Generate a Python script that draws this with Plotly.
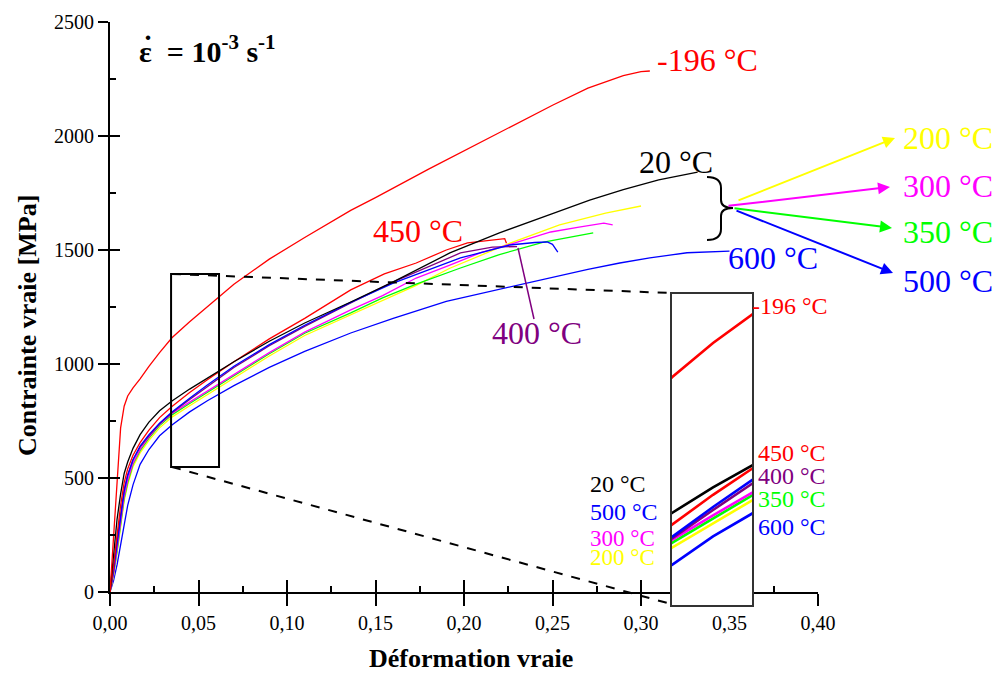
import plotly.graph_objects as go

# ---------------- data ----------------
x_early = [0, 0.002, 0.004, 0.006, 0.008, 0.01, 0.013, 0.017, 0.022, 0.028,
           0.035, 0.045, 0.055, 0.07, 0.09, 0.11, 0.136]

x_m196 = x_early + [0.15, 0.18, 0.20, 0.22, 0.25, 0.27, 0.29, 0.30, 0.305]
y_m196 = [0, 220, 480, 720, 815, 860, 895, 935, 990, 1050, 1115, 1185, 1252, 1350, 1460, 1555, 1674,
          1730, 1855, 1935, 2015, 2135, 2210, 2265, 2282, 2285]

x_20 = x_early + [0.16, 0.192, 0.22, 0.25, 0.271, 0.29, 0.31, 0.332]
y_20 = [0, 150, 320, 430, 520, 570, 630, 690, 745, 795, 838, 890, 937, 1010, 1100, 1180, 1272,
        1360, 1487, 1575, 1660, 1719, 1765, 1808, 1842]

x_450 = x_early + [0.155, 0.173, 0.19, 0.202, 0.211, 0.218, 0.223, 0.224]
y_450 = [0, 110, 250, 380, 480, 540, 600, 655, 710, 765, 814, 875, 931, 1010, 1110, 1200, 1325,
         1395, 1443, 1500, 1531, 1540, 1545, 1550, 1530]

x_500 = x_early + [0.16, 0.198, 0.226, 0.24, 0.247, 0.25, 0.253]
y_500 = [0, 90, 210, 330, 440, 510, 580, 640, 690, 740, 789, 850, 908, 990, 1085, 1170, 1270,
         1355, 1465, 1522, 1533, 1535, 1525, 1491]

x_400 = x_early + [0.16, 0.198, 0.216, 0.23]
y_400 = [0, 100, 230, 350, 450, 515, 580, 635, 685, 738, 786, 844, 900, 985, 1080, 1165, 1268,
         1360, 1487, 1513, 1515]

x_300 = x_early + [0.154, 0.173, 0.192, 0.21, 0.226, 0.249, 0.265, 0.279, 0.284]
y_300 = [0, 80, 190, 310, 420, 490, 565, 625, 680, 735, 783, 833, 882, 955, 1050, 1140, 1237,
         1300, 1377, 1434, 1490, 1525, 1579, 1600, 1618, 1610]

x_350 = x_early + [0.154, 0.173, 0.198, 0.22, 0.245, 0.26, 0.273]
y_350 = [0, 80, 180, 300, 410, 480, 560, 620, 675, 730, 777, 827, 876, 950, 1045, 1135, 1224,
         1290, 1350, 1421, 1480, 1535, 1558, 1575]

x_200 = x_early + [0.154, 0.173, 0.192, 0.21, 0.226, 0.254, 0.28, 0.30]
y_200 = [0, 70, 170, 290, 400, 470, 550, 610, 665, 720, 767, 817, 866, 940, 1035, 1125, 1215,
         1280, 1345, 1420, 1480, 1530, 1610, 1662, 1693]

x_600 = x_early + [0.16, 0.19, 0.23, 0.25, 0.27, 0.288, 0.305, 0.326, 0.34, 0.35]
y_600 = [0, 50, 120, 210, 300, 380, 470, 560, 625, 685, 732, 790, 839, 905, 985, 1055, 1136,
         1200, 1275, 1346, 1382, 1415, 1443, 1465, 1488, 1492, 1495]

x_tickvals = [0, 0.05, 0.10, 0.15, 0.20, 0.25, 0.30, 0.35, 0.40]
x_ticktext = ["0,00", "0,05", "0,10", "0,15", "0,20", "0,25", "0,30", "0,35", "0,40"]
x_minor = [0.025, 0.075, 0.125, 0.175, 0.225, 0.275, 0.325, 0.375]
y_tickvals = [0, 500, 1000, 1500, 2000, 2500]
y_ticktext = ["0", "500", "1000", "1500", "2000", "2500"]
y_minor = [250, 750, 1250, 1750, 2250]

RED, BLACK, BLUE, PURPLE = "#FF0000", "#000000", "#0000FF", "#800080"
MAGENTA, GREEN, YELLOW = "#FF00FF", "#00FF00", "#FFFF00"

curves = [
    ("600 °C", x_600, y_600, BLUE),
    ("200 °C", x_200, y_200, YELLOW),
    ("350 °C", x_350, y_350, GREEN),
    ("300 °C", x_300, y_300, MAGENTA),
    ("400 °C", x_400, y_400, PURPLE),
    ("500 °C", x_500, y_500, BLUE),
    ("450 °C", x_450, y_450, RED),
    ("20 °C", x_20, y_20, BLACK),
    ("-196 °C", x_m196, y_m196, RED),
]

# the page body has an 8 px margin, so the figure is sized to fit the window
OFF = 8
W, H = 992, 671
def px(v): return (v - OFF) / W
def py(v): return 1 - (v - OFF) / H

FONT = "Liberation Serif"

fig = go.Figure()
for name, xs, ys, col in curves:
    fig.add_trace(go.Scatter(x=xs, y=ys, mode="lines", name=name,
                             line=dict(color=col, width=1.3),
                             xaxis="x", yaxis="y", showlegend=False, hoverinfo="skip"))
for name, xs, ys, col in curves:
    fig.add_trace(go.Scatter(x=xs, y=ys, mode="lines", name=name,
                             line=dict(color=col, width=2.6),
                             xaxis="x2", yaxis="y2", showlegend=False, hoverinfo="skip"))

tickfont = dict(family=FONT, size=20, color="black")

fig.update_layout(
    width=W, height=H,
    margin=dict(l=0, r=0, t=0, b=0, pad=0, autoexpand=False),
    showlegend=False,
    paper_bgcolor="white", plot_bgcolor="white",
    xaxis=dict(domain=[px(110), px(818)], range=[0, 0.40], anchor="y",
               showline=True, linecolor="black", linewidth=2,
               ticks="outside", ticklen=12, tickwidth=2, tickcolor="black",
               tickvals=x_tickvals, ticktext=x_ticktext, tickfont=tickfont,
               showgrid=False, zeroline=False, automargin=False),
    yaxis=dict(domain=[py(592), py(22)], range=[0, 2500], anchor="x",
               showline=True, linecolor="black", linewidth=2,
               ticks="outside", ticklen=10, tickwidth=2, tickcolor="black",
               tickvals=y_tickvals, ticktext=y_ticktext, tickfont=tickfont,
               showgrid=False, zeroline=False, automargin=False),
    xaxis3=dict(overlaying="x", anchor="y", range=[0, 0.40],
                showline=False, showgrid=False, zeroline=False, showticklabels=False,
                ticks="inside", ticklen=12, tickwidth=2, tickcolor="black",
                tickvals=x_tickvals, automargin=False,
                minor=dict(tickvals=x_minor, ticks="inside", ticklen=6, tickwidth=2, tickcolor="black")),
    yaxis3=dict(overlaying="y", anchor="x", range=[0, 2500], side="left",
                showline=False, showgrid=False, zeroline=False, showticklabels=False,
                ticks="inside", ticklen=10, tickwidth=2, tickcolor="black",
                tickvals=y_tickvals, automargin=False,
                minor=dict(tickvals=y_minor, ticks="inside", ticklen=6, tickwidth=2, tickcolor="black")),
    xaxis2=dict(domain=[px(672), px(752)], range=[0.035, 0.0545], anchor="y2",
                showline=True, mirror=True, linecolor="#333333", linewidth=2,
                ticks="", showticklabels=False, showgrid=False, zeroline=False, automargin=False),
    yaxis2=dict(domain=[py(605), py(294)], range=[650, 1285], anchor="x2",
                showline=True, mirror=True, linecolor="#333333", linewidth=2,
                ticks="", showticklabels=False, showgrid=False, zeroline=False, automargin=False),
)

# empty traces so the overlay tick axes are drawn
fig.add_trace(go.Scatter(x=[None], y=[None], xaxis="x3", yaxis="y", showlegend=False, hoverinfo="skip"))
fig.add_trace(go.Scatter(x=[None], y=[None], xaxis="x", yaxis="y3", showlegend=False, hoverinfo="skip"))

shapes = []
# zoom box on main plot
shapes.append(dict(type="rect", xref="x", yref="y", x0=0.0345, x1=0.0616, y0=548, y1=1395,
                   line=dict(color="black", width=2)))
# dashed connectors
shapes.append(dict(type="line", xref="paper", yref="paper", x0=px(172), y0=py(274), x1=px(671), y1=py(293),
                   line=dict(color="black", width=2, dash="dash")))
shapes.append(dict(type="line", xref="paper", yref="paper", x0=px(172), y0=py(467), x1=px(671), y1=py(604),
                   line=dict(color="black", width=2, dash="dash")))
# 400 °C leader line
shapes.append(dict(type="line", xref="paper", yref="paper", x0=px(518), y0=py(248), x1=px(534), y1=py(319),
                   line=dict(color=PURPLE, width=1.5)))
# brace
bp = [(707, 177), (721, 177), (721, 188), (721, 200), (721, 208), (733, 208), (721, 208), (721, 216),
      (721, 229), (721, 240), (707, 240)]
P = [(px(a), py(b)) for a, b in bp]
path = ("M {0[0]},{0[1]} Q {1[0]},{1[1]} {2[0]},{2[1]} L {3[0]},{3[1]} Q {4[0]},{4[1]} {5[0]},{5[1]} "
        "Q {6[0]},{6[1]} {7[0]},{7[1]} L {8[0]},{8[1]} Q {9[0]},{9[1]} {10[0]},{10[1]}").format(*P)
shapes.append(dict(type="path", xref="paper", yref="paper", path=path,
                   line=dict(color="black", width=2)))
fig.update_layout(shapes=shapes)

ann = []
def label(text, cx, cy, color, size, xanchor="center"):
    ann.append(dict(text=text, x=px(cx), y=py(cy), xref="paper", yref="paper",
                    xanchor=xanchor, yanchor="middle", showarrow=False,
                    font=dict(family=FONT, size=size, color=color)))

label("<b>ε  = 10<sup>-3</sup> s<sup>-1</sup></b>", 137, 49, "black", 30, xanchor="left")
label("<b>˙</b>", 148, 45, "black", 30)
label("-196 °C", 707, 60, RED, 32)
label("20 °C", 676, 162, BLACK, 32)
label("450 °C", 418, 231, RED, 32)
label("600 °C", 773, 258, BLUE, 32)
label("400 °C", 537, 333, PURPLE, 32)
label("200 °C", 948, 138, YELLOW, 32)
label("300 °C", 948, 186, MAGENTA, 32)
label("350 °C", 948, 232, GREEN, 32)
label("500 °C", 948, 281, BLUE, 32)
# inset labels
label("-196 °C", 790, 306, RED, 24)
label("450 °C", 792, 453, RED, 24)
label("400 °C", 792, 476, PURPLE, 24)
label("350 °C", 792, 499, GREEN, 24)
label("600 °C", 792, 527, BLUE, 24)
label("20 °C", 588, 484, BLACK, 24, xanchor="left")
label("500 °C", 588, 512, BLUE, 24, xanchor="left")
label("300 °C", 588, 538, MAGENTA, 23, xanchor="left")
label("200 °C", 588, 557, YELLOW, 23, xanchor="left")

# axis titles
ann.append(dict(text="<b>Contrainte vraie [MPa]</b>", x=px(27), y=py(326), xref="paper", yref="paper",
                textangle=-90, showarrow=False, xanchor="center", yanchor="middle",
                font=dict(family=FONT, size=26, color="black")))
ann.append(dict(text="<b>Déformation vraie</b>", x=px(471), y=py(658), xref="paper", yref="paper",
                showarrow=False, xanchor="center", yanchor="middle",
                font=dict(family=FONT, size=26, color="black")))

# arrows
arrows = [((737, 201), (895, 138), YELLOW), ((727, 206), (890, 187), MAGENTA),
          ((733, 208), (892, 228), GREEN), ((735, 210), (893, 273), BLUE)]
for (tx, ty), (hx, hy), col in arrows:
    ann.append(dict(text="", x=px(hx), y=py(hy), xref="paper", yref="paper",
                    ax=tx - hx, ay=ty - hy, showarrow=True, arrowhead=2, arrowsize=1.2,
                    arrowwidth=2, arrowcolor=col, standoff=0, startstandoff=0))
fig.update_layout(annotations=ann)

fig.write_html("out.html")
